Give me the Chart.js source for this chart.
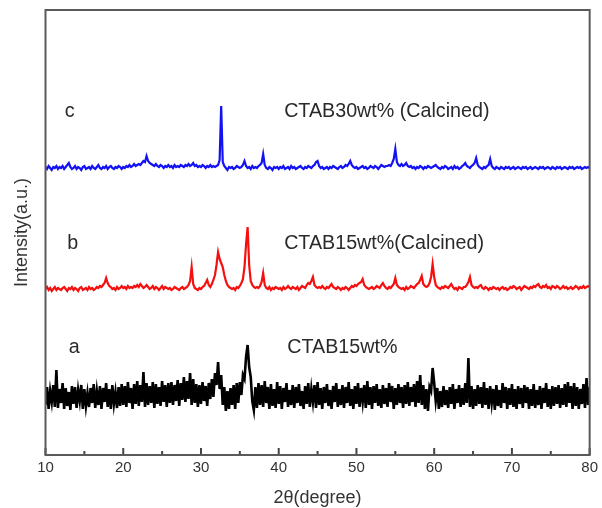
<!DOCTYPE html>
<html>
<head>
<meta charset="utf-8">
<script src="https://cdn.jsdelivr.net/npm/chart.js@4/dist/chart.umd.min.js"></script>
<style>
html,body{margin:0;padding:0;background:#fff;}
#wrap{width:602px;height:508px;}
</style>
</head>
<body>
<div id="wrap"><canvas id="c" width="602" height="508"></canvas></div>
<script>
// 2θ sampling grid (degrees): start, step
const thetaStart = 10.0;
const thetaStep = 0.2;

// Series a: CTAB15wt% (as-made), relative intensity above its baseline
const seriesA = [
 -8,10,-12,6,-5,12,-10,27,-11,8,
 -6,14,-12,9,-9,5,-13,11,-7,10,
 -11,7,-4,12,-12,8,-9,4,-10,9,
 -6,13,-11,6,-8,11,-12,9,-5,14,
 -10,8,-12,12,-7,5,-11,10,-9,13,
 -8,11,-10,15,-6,9,-12,13,-7,16,
 -9,12,-5,25,-10,14,-8,11,-6,15,
 -11,13,-7,10,-9,16,-5,12,-10,14,
 -6,15,-8,12,-4,17,-9,14,-3,20,
 -5,16,-2,24,-8,18,-6,13,-10,12,
 -7,15,-4,11,-9,14,-2,18,0,24,
 12,35,8,22,-8,10,-14,6,-12,9,
 -8,12,-12,14,-6,15,2,22,18,40,
 52,30,20,-4,-13,10,-11,14,-8,12,
 -10,16,-6,10,-12,13,-9,8,-11,15,
 -7,11,-12,9,-5,14,-10,7,-8,12,
 -11,10,-6,13,-9,6,-12,11,-7,14,
 -10,8,-5,12,-11,15,-8,9,-12,10,
 -6,13,-9,7,-12,11,-5,14,-10,8,
 -8,12,-11,10,-6,15,-9,8,-12,11,
 -7,14,-10,9,-5,12,-11,16,-8,10,
 -12,11,-6,13,-9,8,-11,12,-7,9,
 -10,14,-5,11,-12,9,-8,13,-6,10,
 -11,12,-7,15,-9,10,-5,13,-10,16,
 -6,22,-8,12,-12,8,-14,10,6,29,
 14,-4,9,-12,6,-10,11,-8,7,-11,
 10,-7,13,-12,8,-6,12,-10,9,-8,
 14,-6,39,-10,11,-12,8,-9,12,-7,
 10,-11,15,-8,9,-12,11,-6,8,-13,
 12,-9,7,-11,14,-6,10,-12,9,-8,
 13,-10,8,-12,11,-7,9,-11,12,-6,
 10,-12,8,-9,13,-11,7,-8,11,-12,
 9,-6,14,-10,8,-12,11,-9,10,-7,
 12,-11,9,-8,13,-10,15,-6,11,-12,
 14,-9,10,-12,8,-7,13,-11,19,-8,
 10
];

// Series b: CTAB15wt% (Calcined)
const seriesB = [
 0,2,-1,1,-2,0,2,-1,1,0,
 -1,1,2,0,-2,1,0,2,-1,1,
 0,-2,1,2,-1,0,1,-1,2,0,
 1,-1,0,2,1,3,2,4,6,11,
 6,3,2,0,1,-1,2,0,1,3,
 1,2,0,3,1,2,1,3,2,4,
 2,5,3,1,2,4,2,0,1,3,
 0,2,1,-1,1,3,0,2,1,0,
 1,-1,0,2,1,0,-1,1,2,0,
 1,2,4,8,22,5,1,0,-1,1,
 0,2,3,6,9,4,2,5,9,14,
 24,37,30,26,22,14,8,4,2,1,
 0,1,-1,2,1,3,6,10,22,45,
 62,24,8,4,2,1,2,1,3,7,
 16,4,1,0,2,-1,1,0,2,1,
 0,1,-1,2,0,1,3,1,0,2,
 1,0,2,-1,1,3,2,1,4,6,
 5,8,12,4,2,1,2,1,3,1,
 0,2,1,3,5,2,1,0,2,1,
 -1,1,0,2,1,-1,1,3,2,4,
 3,5,6,7,10,4,2,1,0,1,
 2,0,1,3,2,1,4,6,3,1,
 0,2,1,3,5,11,4,2,1,0,
 1,-1,2,0,1,3,2,1,3,5,
 6,9,13,5,3,2,3,6,12,25,
 12,4,2,1,0,2,1,3,2,1,
 3,5,2,0,1,-1,2,1,0,2,
 2,4,7,12,4,2,1,2,1,3,
 4,1,0,2,1,-1,1,0,2,1,
 0,1,-1,1,2,0,1,-1,0,2,
 1,3,2,0,1,2,-1,1,3,2,
 1,0,2,1,3,2,4,5,2,1,
 3,2,4,1,2,0,3,2,1,3,
 2,0,1,3,1,2,0,1,2,0,
 1,3,2,0,2,1,3,1,2,3,
 2
];

// Series c: CTAB30wt% (Calcined)
const seriesC = [
 1,-1,2,0,-2,1,0,2,-1,1,
 0,2,-1,1,3,5,1,-1,0,2,
 -1,1,0,-2,1,2,-1,0,1,-1,
 2,0,-1,1,3,0,-1,1,0,2,
 -1,1,2,0,-1,1,0,2,1,-1,
 1,0,2,1,3,1,2,4,2,3,
 4,3,5,7,6,12,7,5,4,3,
 2,4,2,1,3,2,0,2,1,3,
 1,2,0,3,1,2,1,3,2,1,
 3,2,4,2,3,5,2,3,1,2,
 1,3,2,0,2,1,3,1,2,1,
 2,3,8,62,6,2,0,-2,1,0,
 1,-1,0,2,1,0,1,3,7,2,
 0,1,-1,2,0,1,0,2,3,5,
 14,3,0,-1,1,0,-2,1,0,1,
 -1,1,0,2,-1,0,1,-1,2,0,
 1,-1,0,1,2,0,-1,1,0,2,
 1,0,2,3,6,7,2,0,1,-1,
 0,1,-1,1,0,2,1,0,-1,1,
 2,0,1,3,2,4,7,3,1,0,
 1,-1,0,1,2,0,1,-1,0,2,
 1,0,2,1,-1,1,3,2,1,2,
 2,3,2,5,9,19,6,3,2,4,
 2,3,5,2,1,2,0,1,-1,1,
 0,2,1,-1,1,0,2,1,0,1,
 2,3,1,0,-1,1,0,2,1,-1,
 0,1,-1,2,0,1,-1,0,2,3,
 5,2,1,0,2,3,5,10,3,1,
 0,-1,1,0,2,3,9,2,0,-1,
 1,0,-1,1,0,-1,1,0,1,-1,
 0,1,-1,0,1,0,-1,1,0,1,
 -1,0,1,-1,0,1,0,-1,1,0,
 1,-1,0,1,0,-1,1,0,-1,1,
 0,1,-1,0,1,0,-1,1,0,1,
 -1,0,1,0,1,-1,0,1,0,1,
 0
];

// vertical stacking offsets (a.u.) for a, b, c
const seriesNames = ['a', 'b', 'c'];
const seriesOffsets = [58, 166, 287];
const seriesColors = ['#000000', '#f50f0f', '#1212f5'];

// x tick values
const xTicks = [10, 20, 30, 40, 50, 60, 70, 80];

// text annotations (data coordinates)
const noteTexts = ['c', 'CTAB30wt% (Calcined)', 'b', 'CTAB15wt%(Calcined)', 'a', 'CTAB15wt%'];
const noteX = [13.1, 40.7, 13.5, 40.7, 13.7, 41.1];
const noteY = [343, 343, 211, 211, 107, 107];

function build(values, offset) {
  const pts = [];
  for (let i = 0; i < values.length; i++) {
    pts.push({ x: +(thetaStart + i * thetaStep).toFixed(2), y: values[i] + offset });
  }
  return pts;
}

const allSeries = [seriesA, seriesB, seriesC];
const datasets = allSeries.map((vals, k) => ({
  label: seriesNames[k],
  data: build(vals, seriesOffsets[k]),
  borderColor: seriesColors[k],
  borderWidth: k === 0 ? 2.6 : 2.2,
  borderJoinStyle: 'miter',
  pointRadius: 0,
  tension: 0,
  fill: false
}));

const FONT = "'Liberation Sans', Arial, sans-serif";

const framePlugin = {
  id: 'frame',
  afterDatasetsDraw(chart) {
    const { ctx, chartArea: a, scales } = chart;
    ctx.save();
    // inward ticks on bottom axis
    ctx.strokeStyle = '#444';
    ctx.lineWidth = 2;
    for (let v = 10; v <= 80; v += 5) {
      const px = scales.x.getPixelForValue(v);
      const len = (v % 10 === 0) ? 7 : 4;
      ctx.beginPath();
      ctx.moveTo(px, a.bottom);
      ctx.lineTo(px, a.bottom - len);
      ctx.stroke();
    }
    // frame
    ctx.strokeStyle = '#5a5a5a';
    ctx.lineWidth = 2;
    ctx.strokeRect(a.left, a.top, a.right - a.left, a.bottom - a.top);
    // annotations
    ctx.fillStyle = '#2a2a2a';
    ctx.font = '19.7px ' + FONT;
    ctx.textBaseline = 'middle';
    for (let i = 0; i < noteTexts.length; i++) {
      const x = scales.x.getPixelForValue(noteX[i]);
      const y = scales.y.getPixelForValue(noteY[i]);
      ctx.textAlign = noteTexts[i].length === 1 ? 'center' : 'left';
      ctx.fillText(noteTexts[i], x, y);
    }
    ctx.restore();
  }
};

new Chart(document.getElementById('c'), {
  type: 'line',
  data: { datasets },
  options: {
    responsive: false,
    animation: false,
    layout: { padding: { left: 0, right: 11, top: 10, bottom: 0 } },
    plugins: { legend: { display: false }, tooltip: { enabled: false } },
    scales: {
      x: {
        type: 'linear',
        min: 10, max: 80,
        afterBuildTicks(s) { s.ticks = xTicks.map(v => ({ value: v })); },
        afterFit(s) { s.height = 53; },
        grid: { display: false, drawTicks: false, tickLength: 0 },
        border: { display: false },
        ticks: { font: { size: 15, family: FONT }, color: '#333', padding: 4, maxRotation: 0 },
        title: { display: true, text: '2θ(degree)', font: { size: 18, family: FONT }, color: '#333', padding: { top: 0, bottom: -1 } }
      },
      y: {
        min: 0, max: 445,
        afterFit(s) { s.width = 45.5; },
        grid: { display: false },
        border: { display: false },
        ticks: { display: false },
        title: { display: true, text: 'Intensity(a.u.)', font: { size: 18, family: FONT }, color: '#333', padding: { top: 11, bottom: 0 } }
      }
    }
  },
  plugins: [framePlugin]
});
</script>
</body>
</html>
